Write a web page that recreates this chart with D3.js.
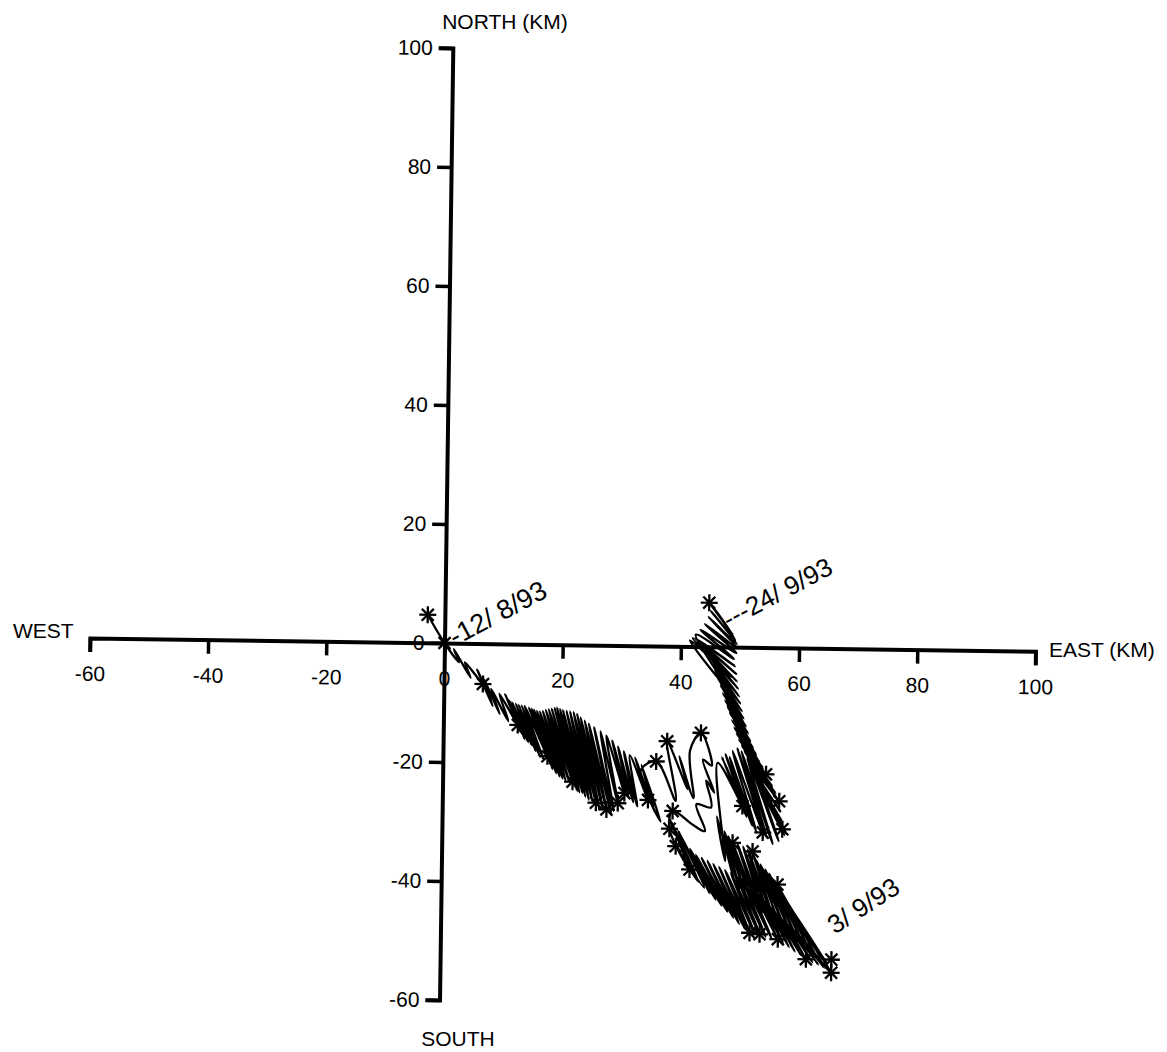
<!DOCTYPE html>
<html><head><meta charset="utf-8">
<script src="https://cdn.jsdelivr.net/npm/d3@7"></script>
<style>
body{margin:0;background:#fff}
text{font-family:"Liberation Sans",Arial,Helvetica,sans-serif;fill:#000}
</style>
</head><body>
<svg id="chart" width="1167" height="1052"></svg>
<script>
// ---- axis ticks ----
const xTicks = [-60, -40, -20, 0, 20, 40, 60, 80, 100];
const yTicks = [-60, -40, -20, 0, 20, 40, 60, 80, 100];

// ---- drifter track (km east, km north) ----
const trackAug = [
  [-2.9,4.7],[0,0],[2.5,-3.2],[1.6,-1.0],[4.5,-5.8],[3.5,-3.2],[6.6,-6.8],[5.6,-4.4],
  [8.3,-10.5],[6.8,-6.0],[9.5,-11.8],[8.0,-7.6],[11.0,-13.0],[9.4,-8.4],[12.6,-13.6],[10.4,-8.5],
  [13.2,-15.0],[10.8,-9.2],[13.8,-16.0],[11.2,-9.6],[14.4,-16.5],[11.6,-9.8],[15.0,-17.0],[12.2,-10.0],
  [15.7,-18.0],[12.7,-10.2],[16.4,-18.9],[13.2,-10.3],[17.0,-19.3],[13.7,-10.4],[17.7,-18.8],[14.4,-10.6],
  [18.2,-20.2],[14.9,-10.8],[18.6,-21.0],[15.3,-11.0],[19.2,-21.6],[15.8,-11.2],[19.8,-22.2],[16.3,-11.3],
  [20.3,-22.5],[16.8,-11.2],[20.8,-22.8],[17.3,-11.0],[21.4,-23.0],[17.8,-10.9],[22.0,-23.0],[18.3,-10.8],
  [22.4,-23.9],[18.8,-10.7],[22.8,-24.6],[19.2,-10.6],[23.2,-24.8],[19.7,-10.8],[23.7,-24.9],[20.2,-11.0],
  [24.2,-25.5],[20.8,-11.1],[24.8,-26.0],[21.4,-11.2],[25.4,-26.3],[22.0,-11.3],[26.0,-26.5],[22.6,-11.6],
  [26.6,-27.6],[23.2,-12.2],[27.2,-27.6],[23.9,-12.7],[27.8,-27.6],[24.6,-13.2],[28.6,-28.2],[25.5,-13.8],
  [29.0,-27.8],[26.6,-14.5],[29.7,-26.5],[27.6,-15.2],[30.8,-24.8],[28.6,-16.0],[31.5,-25.5],[29.6,-17.0],
  [32.3,-26.3],[30.6,-17.8],[33.0,-27.0],[31.6,-18.4],[34.8,-25.9],[32.5,-18.8],[36.0,-28.0],[33.6,-20.0],
  [37.0,-29.5]
];
const trackMid = [
  [37.0,-29.5],[33.5,-21.0],[36.1,-19.4],[39.5,-26.0],[37.9,-16.0],[41.5,-24.0],[40.0,-18.5],
  [42.5,-25.5],[41.8,-17.5],[43.6,-14.5],[45.5,-20.0],[44.0,-19.0],[46.0,-24.5],[44.6,-22.5],
  [45.5,-27.0],[43.0,-26.5],[44.5,-31.0],[42.5,-30.0],[39.0,-27.7]
];
const trackSouth = [
  [39.0,-27.7],[38.5,-30.7],[42.0,-37.5],[38.3,-28.5],[42.8,-38.5],[38.8,-29.5],[43.5,-39.5],
  [39.6,-33.6],[44.5,-40.5],[40.0,-31.0],[45.5,-41.5],[41.0,-33.0],[46.5,-42.5],[42.0,-34.0],
  [47.5,-43.5],[43.0,-35.0],[48.5,-44.5],[44.0,-35.5],[49.5,-45.5],[45.0,-36.0],[50.5,-46.5],
  [46.0,-36.5],[51.5,-47.3],[47.0,-37.0],[52.3,-48.0],[48.0,-37.5],[53.2,-48.2],[49.0,-38.0],
  [54.0,-48.2],[50.0,-38.5],[55.0,-48.6],[51.0,-39.0],[56.0,-48.8],[52.0,-39.5],[57.1,-49.0],
  [53.0,-40.5],[58.0,-49.6],[54.0,-41.5],[59.0,-50.3],[55.0,-42.5],[60.0,-51.0],[56.0,-43.5],
  [61.0,-51.6],[57.0,-44.5],[61.9,-52.3],[58.0,-45.5],[63.0,-52.8],[59.0,-46.5],[64.0,-53.2],
  [60.0,-47.5],[65.0,-53.7],[61.0,-48.5],[66.2,-54.5]
];
const trackReturn = [
  [66.2,-54.5],[58.5,-43.0],[65.5,-53.0],[58.0,-42.0],[64.5,-52.2],[57.5,-41.0],[63.5,-51.5],
  [56.9,-39.8],[62.5,-50.8],[56.3,-39.0],[61.5,-50.0],[55.5,-38.0],[60.5,-49.3],[54.8,-37.3],
  [59.5,-48.5],[54.0,-36.5],[58.5,-47.8],[53.3,-35.8],[57.5,-47.0],[52.6,-34.3],[56.5,-46.2],
  [51.8,-34.0],[55.5,-45.4],[51.0,-33.5],[54.5,-44.5],[50.0,-33.0],[53.5,-43.5],[49.2,-32.9],
  [52.5,-42.5],[48.5,-31.8],[51.5,-41.5],[47.8,-31.0],[50.5,-40.5],[47.0,-30.0],[49.5,-39.0],
  [46.5,-28.5],[48.0,-36.0],[46.5,-19.5],[50.8,-26.7],[47.2,-18.5],[51.5,-28.5],[47.8,-18.0],
  [52.5,-30.0],[48.5,-18.5],[53.2,-31.0],[49.0,-17.5],[54.3,-31.1],[49.8,-17.0],[55.0,-32.0],
  [50.5,-17.5],[56.0,-33.0],[51.5,-18.5],[57.0,-32.5],[52.5,-19.5],[57.6,-30.5],[53.0,-20.5],
  [58.0,-31.5]
];
const trackSep = [
  [58.0,-31.5],[53.5,-23.0],[58.2,-31.0],[53.0,-22.0],[57.6,-30.5],[52.5,-21.0],[57.4,-29.0],
  [52.0,-20.0],[57.2,-27.5],[51.5,-19.0],[57.0,-25.8],[51.0,-17.5],[56.4,-24.5],[50.5,-16.5],
  [55.8,-23.3],[50.0,-15.5],[54.7,-21.3],[49.6,-14.5],[54.2,-20.3],[49.2,-13.5],[53.6,-19.3],
  [48.8,-12.3],[53.0,-18.0],[48.4,-11.0],[52.5,-17.0],[48.0,-10.0],[52.0,-15.8],[47.6,-9.0],
  [51.6,-14.5],[47.2,-7.8],[51.2,-13.3],[46.8,-6.5],[50.8,-12.0],[46.3,-5.3],[50.5,-10.8],
  [45.8,-4.0],[50.2,-9.5],[45.3,-2.8],[50.0,-8.3],[44.8,-1.6],[49.8,-7.0],[44.2,-0.5],
  [49.6,-5.8],[43.5,0.5],[49.4,-4.5],[42.7,1.2],[49.2,-3.2],[42.0,1.4],[48.6,-5.0],[41.5,1.0],
  [48.0,-7.0],[42.5,2.0],[49.0,-2.0],[43.3,2.8],[49.4,-1.0],[44.0,3.8],[49.6,-0.2],[44.6,5.0],
  [49.5,0.5],[45.0,6.0],[49.2,1.2],[45.3,6.8],[48.8,2.0],[44.7,7.4]
];

// ---- daily fixes (asterisks) ----
const dailyFixes = [
  [-2.9,4.7],[0,0],[6.6,-6.8],[12.6,-13.6],[17.7,-18.8],[22.0,-23.0],[26.0,-26.5],[27.8,-27.6],
  [29.7,-26.5],[30.8,-24.8],[34.8,-25.9],[36.1,-19.4],[37.9,-16.0],[43.6,-14.5],[39.0,-27.7],
  [38.5,-30.7],[39.6,-33.6],[42.0,-37.5],[54.7,-21.3],[57.0,-25.8],[57.6,-30.5],[54.3,-31.1],
  [50.8,-26.7],[49.2,-32.9],[52.6,-34.3],[56.9,-39.8],[52.3,-48.0],[54.0,-48.2],[57.1,-49.0],
  [61.9,-52.3],[66.2,-52.3],[66.2,-54.5],[44.7,7.4]
];

// ---- date labels ----
const dateText = ["-12/ 8/93", "---24/ 9/93", "3/ 9/93"];
const dateAt = [[0,0],[44.7,7.4],[66.2,-52.3]];

const svg = d3.select("#chart");
const g = svg.append("g").attr("transform", "translate(444.5,643) rotate(0.8)");

const x = d3.scaleLinear().domain([-60, 100]).range([-60 * 5.91, 100 * 5.91]);
const y = d3.scaleLinear().domain([-60, 100]).range([60 * 5.95, -100 * 5.95]);

// axes (drawn first so labels sit underneath the lines)
const fontSize = 21;
const fmt = d => String(d);
const xAxis = g.append("g").call(d3.axisBottom(x).tickValues(xTicks).tickSize(14).tickPadding(14).tickFormat(fmt));
const yAxis = g.append("g").call(d3.axisLeft(y).tickValues(yTicks).tickSize(14).tickPadding(6).tickFormat(fmt));
[xAxis, yAxis].forEach(a => {
  a.attr("font-size", null).attr("font-family", null);
  a.select(".domain").attr("stroke", "#000").attr("stroke-width", 4).attr("stroke-linejoin", "miter");
  a.selectAll(".tick line").attr("stroke", "#000").attr("stroke-width", 3.5);
  a.selectAll(".tick text").style("font-size", fontSize + "px").attr("fill", "#000");
  a.selectAll(".tick text").lower();
});
xAxis.selectAll(".tick text").attr("dy", "0.71em");

// track
const line = d3.line().x(d => x(d[0])).y(d => y(d[1])).curve(d3.curveCatmullRom.alpha(0.5));
const track = [...trackAug, ...trackMid.slice(1), ...trackSouth.slice(1), ...trackReturn.slice(1), ...trackSep.slice(1)];
g.append("path").datum(track).attr("d", line)
  .attr("fill", "none").attr("stroke", "#000").attr("stroke-width", 2.3).attr("stroke-linejoin", "round");

// asterisks
const r = 8.5;
const star = g.append("g").attr("stroke", "#000").attr("stroke-width", 2.3);
dailyFixes.forEach(p => {
  const cx = x(p[0]), cy = y(p[1]);
  [0, 45, 90, 135].forEach(a => {
    const t = a * Math.PI / 180;
    star.append("line")
      .attr("x1", cx - r * Math.cos(t)).attr("y1", cy - r * Math.sin(t))
      .attr("x2", cx + r * Math.cos(t)).attr("y2", cy + r * Math.sin(t));
  });
});

// date labels
const dateOffset = [[10.5, 3], [19.5, 25.7], [3, -25]];
const dateAngle = [-28.8, -28.5, -33.5];
const dateSize = [27, 26, 26];
dateText.forEach((t, i) => {
  const px = x(dateAt[i][0]) + dateOffset[i][0], py = y(dateAt[i][1]) + dateOffset[i][1];
  g.append("text").attr("transform", `translate(${px},${py}) rotate(${dateAngle[i]})`)
    .style("font-size", dateSize[i] + "px").text(t);
});

// axis titles
const titles = [
  {t: "NORTH (KM)", x: 505, y: 29, a: "middle"},
  {t: "SOUTH", x: 458, y: 1046, a: "middle"},
  {t: "WEST", x: 13, y: 638, a: "start"},
  {t: "EAST (KM)", x: 1049, y: 657, a: "start"}
];
titles.forEach(d => svg.append("text").attr("x", d.x).attr("y", d.y).attr("text-anchor", d.a)
  .style("font-size", fontSize + "px").text(d.t));
</script>
</body></html>
